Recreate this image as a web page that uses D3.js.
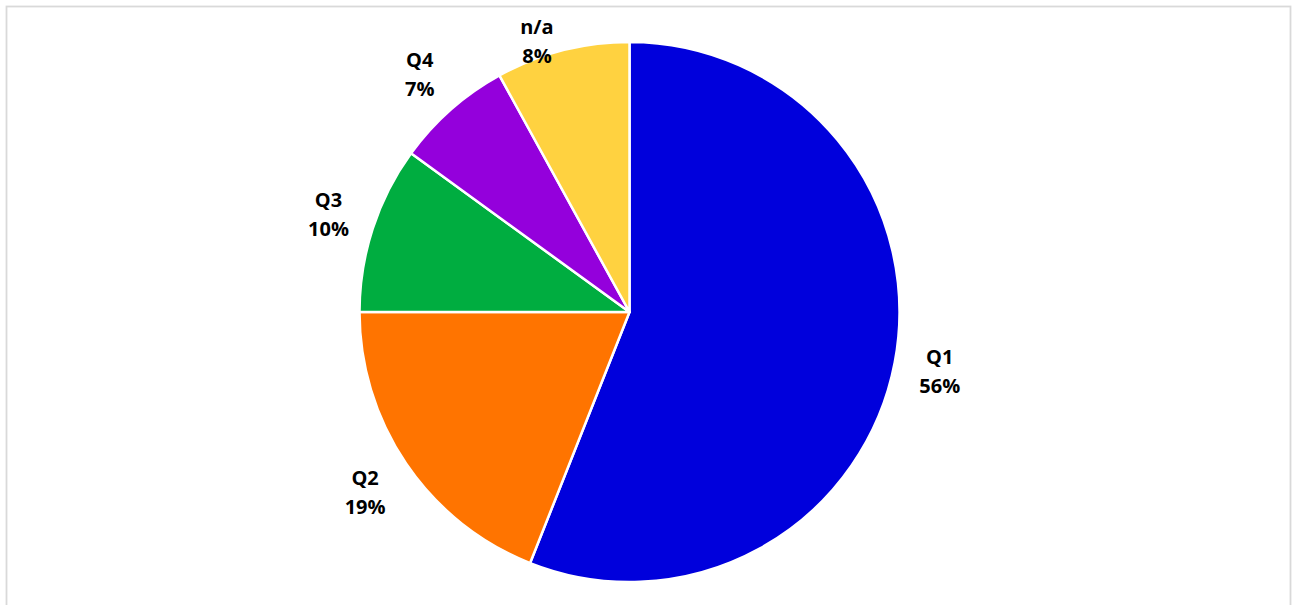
<!DOCTYPE html>
<html>
<head>
<meta charset="utf-8">
<script src="https://cdn.jsdelivr.net/npm/d3@7"></script>
<style>
  html, body { margin: 0; padding: 0; background: #fff; }
  .lbl { font-family: "Open Sans", "Liberation Sans", sans-serif; font-weight: bold; font-size: 20px; fill: #000; }
</style>
</head>
<body>
<div id="chart"></div>
<script>
var categories = ["Q1", "Q2", "Q3", "Q4", "n/a"];
var values = [56, 19, 10, 7, 8];
var colors = ["#0000dc", "#ff7400", "#00ad40", "#9400dc", "#ffd240"];

var width = 1292, height = 605;
var svg = d3.select("#chart").append("svg")
	.attr("width", width)
	.attr("height", height);

// chart frame
svg.append("rect")
	.attr("x", 6.5).attr("y", 6.5)
	.attr("width", 1284).attr("height", 620)
	.attr("fill", "#fff")
	.attr("stroke", "#d9d9d9")
	.attr("stroke-width", 1.8);

var cx = 629.5, cy = 312, radius = 270;
var g = svg.append("g").attr("transform", "translate(" + cx + "," + cy + ")");

var data = categories.map(function(c, i) { return {name: c, value: values[i], color: colors[i]}; });

var pie = d3.pie()
	.sort(null)
	.value(function(d) { return d.value; });

var arc = d3.arc().innerRadius(0).outerRadius(radius);

var arcs = pie(data);

g.selectAll(".slice")
	.data(arcs)
	.enter().append("path")
	.attr("class", "slice")
	.attr("d", arc)
	.attr("fill", function(d) { return d.data.color; })
	.attr("stroke", "#fff")
	.attr("stroke-width", 2.5)
	.attr("stroke-linejoin", "round");

var total = d3.sum(values);
var lineH = 29;

var labels = g.selectAll(".lbl")
	.data(arcs)
	.enter().append("text")
	.attr("class", "lbl")
	.attr("text-anchor", "middle");

labels.append("tspan")
	.attr("x", 0).attr("dy", 0)
	.text(function(d) { return d.data.name; });
labels.append("tspan")
	.attr("x", 0).attr("dy", lineH)
	.text(function(d) { return Math.round(d.data.value / total * 100) + "%"; });

// place each label just outside its slice, like Excel's best fit
var gap = 25;
labels.each(function(d) {
	var el = d3.select(this);
	var bb = this.getBBox();
	var a = (d.startAngle + d.endAngle) / 2;
	var ux = Math.sin(a), uy = -Math.cos(a);
	var hw = bb.width / 2, hh = bb.height / 2;
	var edge = Math.min(Math.abs(ux) > 1e-6 ? hw / Math.abs(ux) : 1e9,
	                    Math.abs(uy) > 1e-6 ? hh / Math.abs(uy) : 1e9);
	var dist = radius + gap + edge;
	var px = ux * dist, py = uy * dist;
	// keep inside the plot area
	var minY = 13 - cy + hh;
	if (py < minY) { py = minY; px -= 12; }
	var oy = bb.y + bb.height / 2;
	el.attr("transform", "translate(" + px + "," + (py - oy) + ")");
});
</script>
</body>
</html>
